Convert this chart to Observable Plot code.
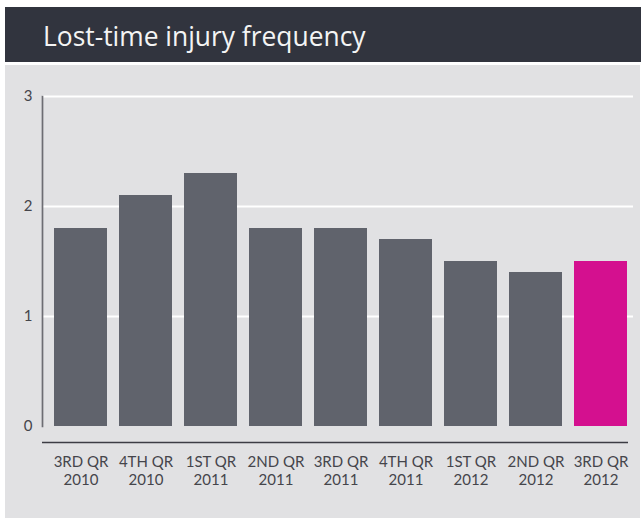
<!DOCTYPE html>
<html>
<head>
<meta charset="utf-8">
<script src="https://cdn.jsdelivr.net/npm/d3@7"></script>
<script src="https://cdn.jsdelivr.net/npm/@observablehq/plot@0.6"></script>
<style>
  html, body { margin: 0; padding: 0; background: #ffffff; }
  #wrap { position: relative; width: 641px; height: 518px; overflow: hidden; }
  #header { position: absolute; left: 5px; top: 7px; width: 636px; height: 55px; background: #31343e; }
  #title { position: absolute; left: 38px; top: 16px; font-family: "Open Sans", sans-serif; font-size: 26.4px; line-height: 26px; color: #f4f4f4; white-space: nowrap; }
  #panel { position: absolute; left: 5px; top: 65px; width: 635px; height: 453px; background: #e1e1e3; }
  #chart { position: absolute; left: 0; top: 64px; }
</style>
</head>
<body>
<div id="wrap">
  <div id="header"><div id="title">Lost-time injury frequency</div></div>
  <div id="panel"></div>
  <div id="chart"></div>
</div>
<script>
const quarters = ["3RD QR", "4TH QR", "1ST QR", "2ND QR", "3RD QR", "4TH QR", "1ST QR", "2ND QR", "3RD QR"];
const years = ["2010", "2010", "2011", "2011", "2011", "2011", "2012", "2012", "2012"];
const values = [1.8, 2.1, 2.3, 1.8, 1.8, 1.7, 1.5, 1.4, 1.5];
const highlight = [false, false, false, false, false, false, false, false, true];
const yTicks = [0, 1, 2, 3];
const gridTicks = [1, 2, 3];

const data = values.map((v, i) => ({
  key: quarters[i] + "\n" + years[i],
  value: v,
  hl: highlight[i]
}));
const keys = data.map(d => d.key);

const chart = Plot.plot({
  width: 641,
  height: 454,
  marginLeft: 42,
  marginRight: 8,
  marginTop: 32,
  marginBottom: 76,
  style: { fontFamily: "Lato, sans-serif", fontSize: "15px", color: "#45454b", background: "transparent", overflow: "visible" },
  x: { domain: keys, paddingInner: 0.19, paddingOuter: 0.1147, align: 0.667, label: null },
  y: { domain: [0, 3], insetBottom: 16, label: null },
  marks: [
    Plot.gridY(gridTicks, { stroke: "#ffffff", strokeOpacity: 1, strokeWidth: 2 }),
    Plot.barY(data, { x: "key", y: "value", fill: d => d.hl ? "#d4108f" : "#60636c" }),
    Plot.frame({ anchor: "left", insetBottom: 16, stroke: "#6d6d73", strokeWidth: 1.7 }),
    Plot.ruleY([0], { dy: 16, insetRight: 5, stroke: "#3c3c44", strokeWidth: 1.6, strokeOpacity: 1 }),
    Plot.axisY(yTicks, { tickSize: 0, tickPadding: 10, fontSize: 15, fill: "#45454b", tickFormat: d => String(d), label: null }),
    Plot.axisX({ tickSize: 0, tickPadding: 12, fontSize: 15, fill: "#45454b", lineHeight: 1.2, label: null })
  ]
});
document.getElementById("chart").appendChild(chart);
</script>
</body>
</html>
